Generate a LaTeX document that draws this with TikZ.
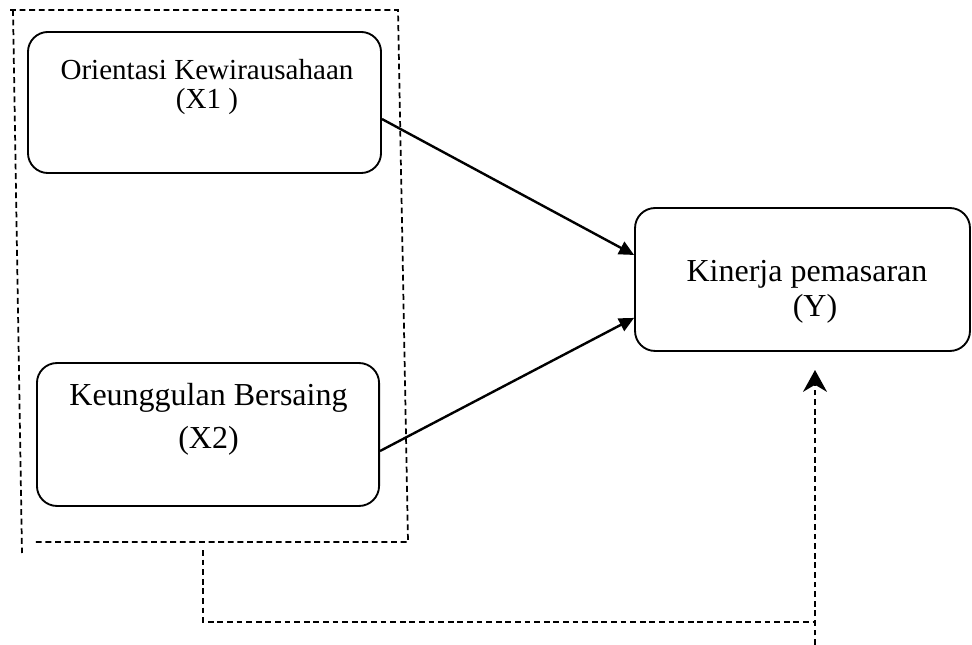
\documentclass[tikz,border=0pt]{standalone}
\usepackage{fontspec}
\setmainfont{Liberation Serif}
\usepackage{tikz}
\usetikzlibrary{arrows.meta,positioning,calc}

\begin{document}
\begin{tikzpicture}[
    x=0.375pt, y=-0.375pt,
    varbox/.style={rectangle, draw=black, line width=0.7pt, rounded corners=7.5pt, minimum height=53.6pt, inner sep=0pt},
    vartext/.style={align=center, inner sep=0pt},
    frame/.style={draw=black, line width=0.65pt, dash pattern=on 2.2pt off 1.4pt},
    path/.style={draw=black, line width=0.9pt, -{Triangle[length=5.6pt,width=5.2pt]}}
]
    \useasboundingbox (0,0) rectangle (972,645);

    \node[varbox, minimum width=132.4pt, minimum height=52.9pt] (x1) at (204.5,102.5) {};
    \node[vartext, font=\fontsize{10.9pt}{11pt}\selectfont] (x1text) at (207,87) {Orientasi Kewirausahaan\\(X1 )};

    \node[varbox, minimum width=128.3pt] (x2) at (208,434.5) {};
    \node[vartext, font=\fontsize{12pt}{16pt}\selectfont] (x2text) at (208.5,419.6) {Keunggulan Bersaing\\(X2)};

    \node[varbox, minimum width=125.6pt] (y) at (802.5,279.5) {};
    \node[vartext, font=\fontsize{12pt}{13.1pt}\selectfont] (ytext) at (807,292) {Kinerja pemasaran\\\hspace*{6pt}(Y)};

    \draw[path] ([yshift=-6.2pt]x1.east) -- ([yshift=9.2pt]y.west);
    \draw[path] ([yshift=-6.2pt]x2.east) -- ([yshift=-14.4pt]y.west);

    \draw[frame] (10,10) -- (398,10) -- (408,542) -- (35,542);
    \draw[frame] (13,10) -- (22,553);

    \coordinate (fbstart) at (203,550);
    \coordinate (fbturn) at (203,622);
    \coordinate (fbjoin) at (815,622);
    \coordinate (fbfoot) at (815,645);
    \coordinate (fbtip) at (815,370);

    \draw[frame] (fbstart) -- (fbturn) -- (fbjoin);
    \draw[frame, -{Stealth[length=8.2pt,width=9pt]}] (fbfoot) -- (fbtip);
\end{tikzpicture}
\end{document}
